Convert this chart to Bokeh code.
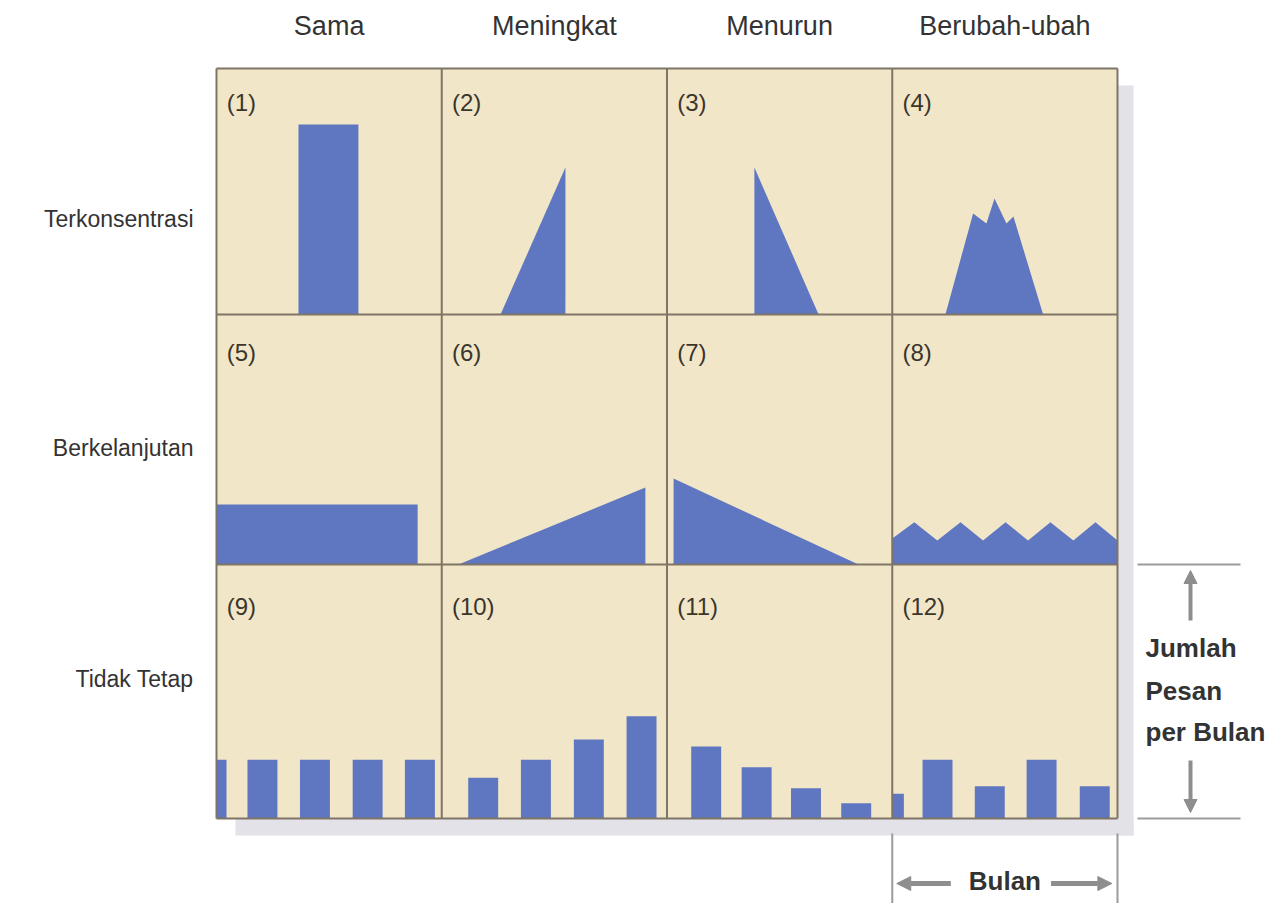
from bokeh.plotting import figure
from bokeh.models import Range1d, Arrow, NormalHead
from bokeh.core.properties import value
from bokeh.embed import file_html
from bokeh.resources import INLINE

# ---------------- data ----------------
col_labels = ["Sama", "Meningkat", "Menurun", "Berubah-ubah"]
row_labels = ["Terkonsentrasi", "Berkelanjutan", "Tidak Tetap"]
panel_ids = ["(1)", "(2)", "(3)", "(4)", "(5)", "(6)", "(7)", "(8)", "(9)", "(10)", "(11)", "(12)"]

# area shapes: month positions and message levels (per panel, local units)
p1_month = [3.64, 3.64, 6.3, 6.3]
p1_level = [0, 7.6, 7.6, 0]
p2_month = [2.61, 5.49, 5.49]
p2_level = [0, 5.88, 0]
p3_month = [3.88, 3.88, 6.73]
p3_level = [0, 5.88, 0]
p4_month = [2.36, 3.59, 4.18, 4.54, 5.07, 5.38, 6.7]
p4_level = [0, 4.04, 3.64, 4.64, 3.64, 3.92, 0]
p5_month = [0, 0, 8.93, 8.93]
p5_level = [0, 2.4, 2.4, 0]
p6_month = [0.74, 9.04, 9.04]
p6_level = [0, 3.08, 0]
p7_month = [0.29, 0.29, 8.5]
p7_level = [0, 3.44, 0]
p8_month = [0, 0.98, 2.0, 3.03, 4.03, 5.03, 6.03, 7.02, 8.04, 9.02, 10]
p8_level = [1.04, 1.69, 0.96, 1.69, 0.96, 1.69, 0.96, 1.69, 0.96, 1.69, 0.96]

# bar panels: bar centres (months) and heights (messages)
p9_center = [-0.22, 2.04, 4.37, 6.71, 9.03]
p9_height = [2.35, 2.35, 2.35, 2.35, 2.35]
p10_center = [1.84, 4.18, 6.53, 8.87]
p10_height = [1.63, 2.35, 3.16, 4.09]
p11_center = [1.74, 3.98, 6.17, 8.4]
p11_height = [2.88, 2.05, 1.21, 0.61]
p12_center = [-0.15, 2.01, 4.33, 6.63, 8.99]
p12_height = [0.99, 2.35, 1.29, 2.35, 1.29]
bar_width = 1.33

# ---------------- layout ----------------
PX_X = 22.525
PX_Y = 25.0
COL_W = 10.0
row_bottom = [20.16, 10.16, 0.0]
row_height = [9.84, 10.0, 10.16]

BLUE = "#5f77c0"
CREAM = "#f2e6c9"
GRID = "#7e7566"
GRAYLINE = "#9b9b9b"
ARROW = "#8e8e8e"
TEXT = "#333333"
FONT = "Liberation Sans"

p = figure(width=1272, height=903, output_backend="svg", toolbar_location=None,
           x_range=Range1d(-216 / PX_X, 40 + 155 / PX_X),
           y_range=Range1d(-85 / PX_Y, 30 + 68 / PX_Y),
           x_axis_type=None, y_axis_type=None, min_border=0)
p.grid.visible = False
p.outline_line_color = None
p.background_fill_color = "white"
p.border_fill_color = "white"

# shadow
p.quad(left=[40, 19 / PX_X], right=[40 + 16 / PX_X, 40 + 16 / PX_X],
       bottom=[-17 / PX_Y, -17 / PX_Y], top=[30 - 17 / PX_Y, 0],
       fill_color="#e2e2e8", line_color=None)

# panel backgrounds
bl, br, bb, bt = [], [], [], []
for r in range(3):
    for c in range(4):
        bl.append(c * COL_W); br.append((c + 1) * COL_W)
        bb.append(row_bottom[r]); bt.append(row_bottom[r] + row_height[r])
p.quad(left=bl, right=br, bottom=bb, top=bt, fill_color=CREAM, line_color=None)

def place(r, c, xs, ys):
    return [c * COL_W + x for x in xs], [row_bottom[r] + y for y in ys]

areas = [(0, 0, p1_month, p1_level), (0, 1, p2_month, p2_level),
         (0, 2, p3_month, p3_level), (0, 3, p4_month, p4_level),
         (1, 0, p5_month, p5_level), (1, 1, p6_month, p6_level),
         (1, 2, p7_month, p7_level), (1, 3, p8_month, p8_level)]
pxs, pys = [], []
for r, c, m, l in areas:
    xs = [m[0]] + list(m) + [m[-1]]
    ys = [0] + list(l) + [0]
    gx, gy = place(r, c, xs, ys)
    pxs.append(gx); pys.append(gy)
p.patches(xs=pxs, ys=pys, fill_color=BLUE, line_color=None)

bars = [(2, 0, p9_center, p9_height), (2, 1, p10_center, p10_height),
        (2, 2, p11_center, p11_height), (2, 3, p12_center, p12_height)]
ql, qr, qb, qt = [], [], [], []
for r, c, ctr, h in bars:
    for x, v in zip(ctr, h):
        ql.append(c * COL_W + max(x - bar_width / 2, 0))
        qr.append(c * COL_W + min(x + bar_width / 2, COL_W))
        qb.append(row_bottom[r]); qt.append(row_bottom[r] + v)
p.quad(left=ql, right=qr, bottom=qb, top=qt, fill_color=BLUE, line_color=None)

# grid lines
gx0, gx1, gy0, gy1 = [], [], [], []
for c in range(5):
    gx0.append(c * COL_W); gx1.append(c * COL_W); gy0.append(0); gy1.append(30)
for yv in [0] + row_bottom[:2] + [30]:
    gx0.append(0); gx1.append(40); gy0.append(yv); gy1.append(yv)
p.segment(x0=gx0, y0=gy0, x1=gx1, y1=gy1, line_color=GRID, line_width=2)

# column headers
p.text(x=[c * COL_W + 5 for c in range(4)], y=[30 + 43 / PX_Y] * 4, text=col_labels,
       text_font=value(FONT), text_font_size="27px", text_color=TEXT,
       text_align="center", text_baseline="middle")
# row labels
p.text(x=[-23 / PX_X] * 3, y=[24.0, 14.84, 5.6], text=row_labels,
       text_font=value(FONT), text_font_size="23px", text_color=TEXT,
       text_align="right", text_baseline="middle")
# panel numbers
nx, ny = [], []
for r in range(3):
    for c in range(4):
        nx.append(c * COL_W + 0.45); ny.append(row_bottom[r] + 212 / PX_Y)
p.text(x=nx, y=ny, text=panel_ids, text_font=value(FONT), text_font_size="24px",
       text_color="#3a362c", text_align="left", text_baseline="middle")

# right annotation (Jumlah Pesan per Bulan)
ax0 = 40 + 20 / PX_X
ax1 = 40 + 123 / PX_X
p.segment(x0=[ax0, ax0], x1=[ax1, ax1], y0=[0, row_bottom[1]], y1=[0, row_bottom[1]],
          line_color=GRAYLINE, line_width=2)
axm = 40 + 73 / PX_X
p.add_layout(Arrow(end=NormalHead(size=13, fill_color=ARROW, line_color=ARROW),
                   x_start=axm, y_start=7.92, x_end=axm, y_end=9.92,
                   line_color=ARROW, line_width=4))
p.add_layout(Arrow(end=NormalHead(size=13, fill_color=ARROW, line_color=ARROW),
                   x_start=axm, y_start=2.32, x_end=axm, y_end=0.24,
                   line_color=ARROW, line_width=4))
p.text(x=[40 + 28 / PX_X] * 3, y=[6.84, 5.12, 3.48], text=["Jumlah", "Pesan", "per Bulan"],
       text_font=value(FONT), text_font_size="26px", text_font_style="bold",
       text_color=TEXT, text_align="left", text_baseline="middle")

# bottom annotation (Bulan)
p.segment(x0=[30, 40], x1=[30, 40], y0=[-15 / PX_Y, -15 / PX_Y], y1=[-3.4, -3.4],
          line_color=GRAYLINE, line_width=2)
p.add_layout(Arrow(end=NormalHead(size=14, fill_color=ARROW, line_color=ARROW),
                   x_start=32.6, y_start=-2.6, x_end=30.2, y_end=-2.6,
                   line_color=ARROW, line_width=5))
p.add_layout(Arrow(end=NormalHead(size=14, fill_color=ARROW, line_color=ARROW),
                   x_start=37.05, y_start=-2.6, x_end=39.75, y_end=-2.6,
                   line_color=ARROW, line_width=5))
p.text(x=[35], y=[-2.48], text=["Bulan"], text_font=value(FONT), text_font_size="26px",
       text_font_style="bold", text_color=TEXT, text_align="center", text_baseline="middle")

open("out.html", "w").write(file_html(p, INLINE))
